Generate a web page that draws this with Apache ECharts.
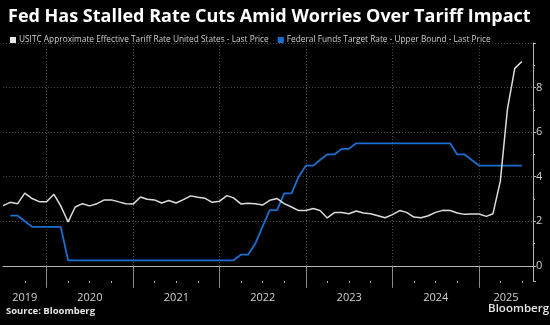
<!DOCTYPE html>
<html>
<head>
<meta charset="utf-8">
<script src="https://cdn.jsdelivr.net/npm/echarts@6/dist/echarts.min.js"></script>
<style>
  html, body { margin: 0; padding: 0; background: #000; }
  #chart { width: 550px; height: 325px; }
</style>
</head>
<body>
<div id="chart"></div>
<script>
// Monthly readings, one per month starting at the given month.
const tariffStart = [2019, 7];
const tariffRate = [
  2.70, 2.85, 2.79, 3.26, 3.02, 2.88,
  2.88, 3.21, 2.69, 1.97, 2.64, 2.79, 2.69, 2.79, 2.96, 2.96, 2.87, 2.79,
  2.77, 3.09, 2.99, 2.96, 2.82, 2.93, 2.82, 2.97, 3.14, 3.08, 3.03, 2.85,
  2.90, 3.15, 3.05, 2.78, 2.81, 2.79, 2.73, 2.94, 3.02, 2.79, 2.64, 2.48,
  2.48, 2.57, 2.48, 2.15, 2.39, 2.39, 2.34, 2.46, 2.37, 2.34, 2.25, 2.16,
  2.30, 2.48, 2.40, 2.19, 2.16, 2.25, 2.40, 2.49, 2.48, 2.37, 2.31, 2.33,
  2.33, 2.22, 2.34, 3.80, 7.03, 8.86, 9.17
];

const fedStart = [2019, 8];
const fedFundsUpper = [
  2.25, 2.25, 2.00, 1.75, 1.75,
  1.75, 1.75, 1.75, 0.25, 0.25, 0.25, 0.25, 0.25, 0.25, 0.25, 0.25, 0.25,
  0.25, 0.25, 0.25, 0.25, 0.25, 0.25, 0.25, 0.25, 0.25, 0.25, 0.25, 0.25,
  0.25, 0.25, 0.25, 0.50, 0.50, 1.00, 1.75, 2.50, 2.50, 3.25, 3.25, 4.00,
  4.50, 4.50, 4.75, 5.00, 5.00, 5.25, 5.25, 5.50, 5.50, 5.50, 5.50, 5.50,
  5.50, 5.50, 5.50, 5.50, 5.50, 5.50, 5.50, 5.50, 5.50, 5.00, 5.00, 4.75,
  4.50, 4.50, 4.50, 4.50, 4.50, 4.50, 4.50
];

const seriesNames = [
  'USITC Approximate Effective Tariff Rate United States - Last Price',
  'Federal Funds Target Rate - Upper Bound - Last Price'
];
const yearLabels = [2019, 2020, 2021, 2022, 2023, 2024, 2025];

const titleText = 'Fed Has Stalled Rate Cuts Amid Worries Over Tariff Impact';
const sourceText = 'Source: Bloomberg';
const brandText = 'Bloomberg';

// Time range shown on the x axis (UTC timestamps)
const xMin = Date.UTC(2019, 6, 1);
const xMax = Date.UTC(2025, 7, 17);

function monthly(start, values) {
  return values.map((v, i) => [Date.UTC(start[0], start[1] - 1 + i, 1), v]);
}

// Year boundaries get long ticks and gridlines; quarters get short ticks.
const yearStarts = yearLabels.slice(1).map(y => Date.UTC(y, 0, 1));
const quarterTicks = [];
yearLabels.forEach(y => {
  [3, 6, 9].forEach(m => {
    const t = Date.UTC(y, m, 1);
    if (t > xMin && t < xMax) quarterTicks.push(t);
  });
});
// Year labels sit in the middle of the visible part of each year.
const yearMids = yearLabels.map(y => {
  const a = Math.max(Date.UTC(y, 0, 1), xMin);
  const b = Math.min(Date.UTC(y + 1, 0, 1), xMax);
  return (a + b) / 2;
});

const fontFamily = '"Open Sans", "Noto Sans", sans-serif';
const gridColor = '#4a4a4a';
const axisColor = '#b4b4b4';
const textColor = '#d0d0d0';

const chart = echarts.init(document.getElementById('chart'), null, { renderer: 'canvas' });

chart.setOption({
  backgroundColor: '#000000',
  animation: false,
  textStyle: { fontFamily },
  title: {
    text: titleText,
    left: 3,
    top: 3,
    textStyle: { color: '#ffffff', fontSize: 18, fontWeight: 'bold', fontFamily }
  },
  legend: {
    left: 5,
    top: 31,
    itemWidth: 6,
    itemHeight: 6,
    itemGap: 9,
    icon: 'rect',
    data: seriesNames,
    textStyle: { color: textColor, fontSize: 8.3, padding: [0, 0, 0, -2] }
  },
  grid: { left: 3, right: 17, top: 43, bottom: 44, containLabel: false },
  xAxis: [
    {
      type: 'value',
      min: xMin,
      max: xMax,
      axisLine: { show: true, lineStyle: { color: axisColor, width: 1 } },
      axisTick: {
        show: true,
        customValues: yearStarts,
        length: 22,
        lineStyle: { color: '#8a8a8a', width: 1 }
      },
      axisLabel: {
        show: true,
        customValues: yearMids,
        formatter: v => String(new Date(v).getUTCFullYear()),
        color: textColor,
        fontSize: 11,
        margin: 11,
        hideOverlap: false
      },
      splitLine: { show: true, lineStyle: { color: gridColor, type: [1, 2], width: 1 } }
    },
    {
      type: 'value',
      min: xMin,
      max: xMax,
      position: 'bottom',
      axisLine: { show: false },
      axisTick: {
        show: true,
        customValues: quarterTicks,
        length: 2,
        lineStyle: { color: axisColor, width: 1 }
      },
      axisLabel: { show: false },
      splitLine: { show: false }
    }
  ],
  yAxis: {
    type: 'value',
    position: 'right',
    min: -0.68,
    max: 10,
    splitNumber: 5,
    axisLine: { show: true, lineStyle: { color: axisColor, width: 1 } },
    axisTick: { show: true, length: 3, lineStyle: { color: axisColor } },
    minorTick: { show: true, splitNumber: 2, length: 2, lineStyle: { color: axisColor } },
    axisLabel: {
      color: textColor,
      fontSize: 11,
      margin: 3,
      showMinLabel: false,
      showMaxLabel: false
    },
    splitLine: {
      show: true,
      showMinLine: false,
      lineStyle: { color: gridColor, type: [1, 2], width: 1 }
    }
  },
  graphic: [
    {
      type: 'text',
      left: 6,
      top: 306,
      style: { text: sourceText, fill: '#e6e6e6', font: 'bold 9.5px ' + fontFamily }
    },
    {
      type: 'text',
      right: 1,
      top: 303,
      style: { text: brandText, fill: '#e6e6e6', font: '600 11.5px ' + fontFamily }
    }
  ],
  series: [
    {
      name: seriesNames[1],
      type: 'line',
      xAxisIndex: 0,
      data: monthly(fedStart, fedFundsUpper),
      showSymbol: false,
      color: '#1a6fd0',
      lineStyle: { color: '#1a6fd0', width: 1.8 },
      z: 2
    },
    {
      name: seriesNames[0],
      type: 'line',
      xAxisIndex: 0,
      data: monthly(tariffStart, tariffRate),
      showSymbol: false,
      color: '#e8e8e8',
      lineStyle: { color: '#dcdcdc', width: 1.5 },
      z: 3
    }
  ]
});
</script>
</body>
</html>
